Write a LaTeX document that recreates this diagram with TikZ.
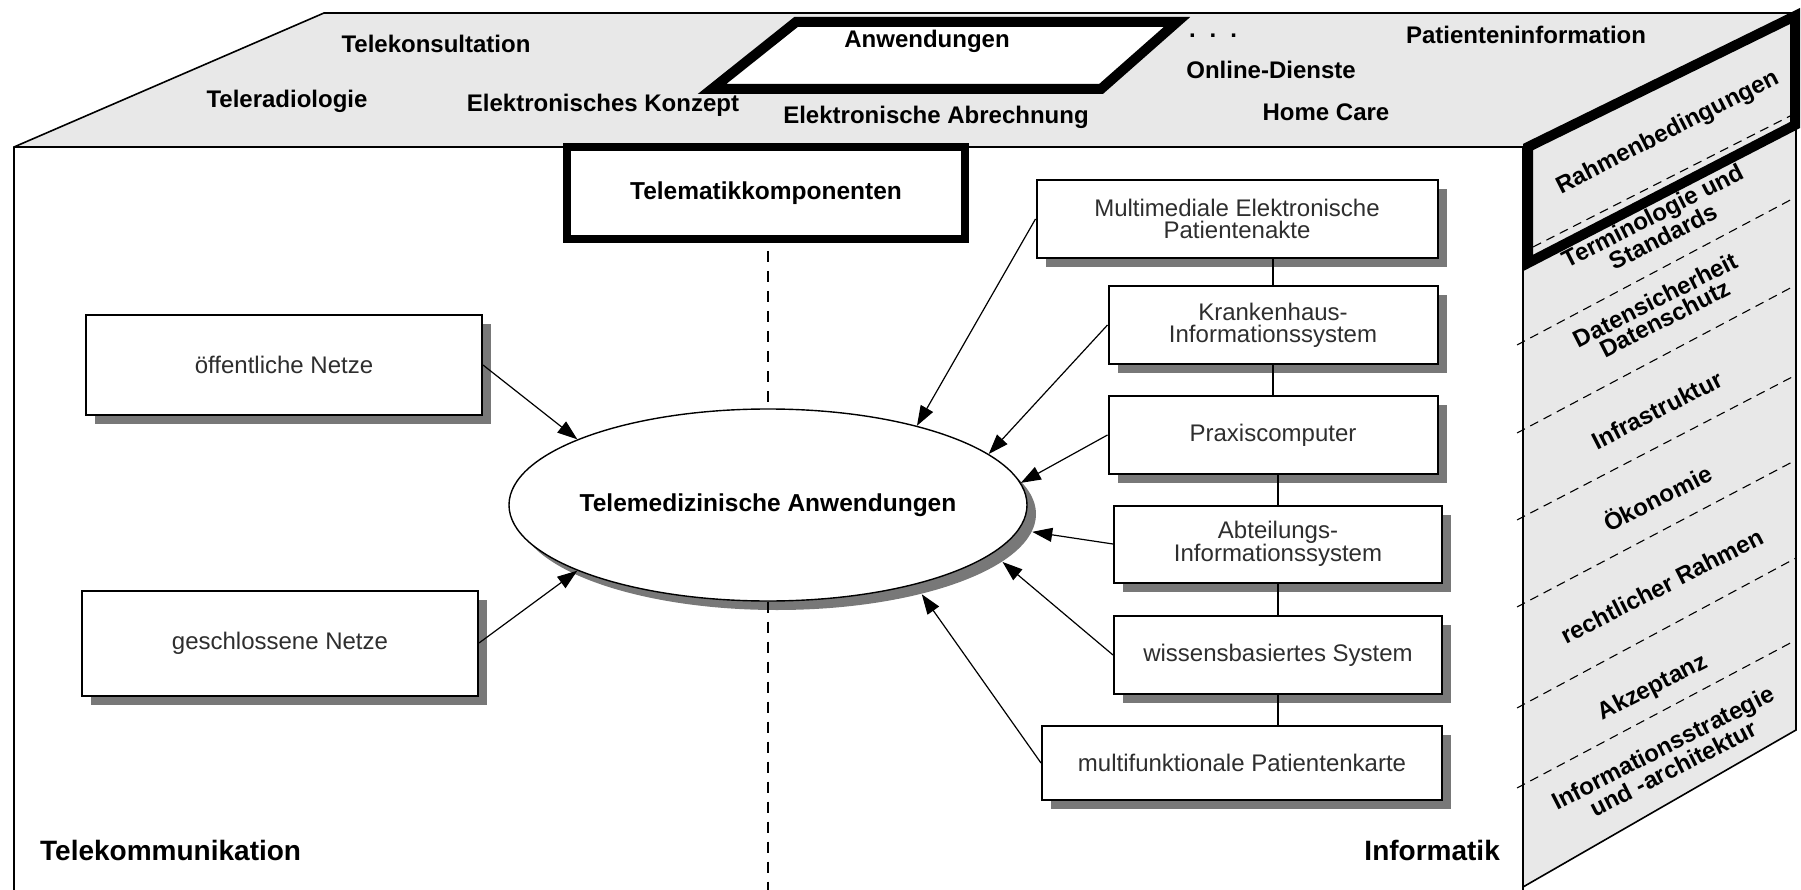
\documentclass[tikz,border=0pt]{standalone}
\usepackage{fontspec}
\setmainfont{Liberation Sans}
\usetikzlibrary{arrows.meta,shapes.geometric,shadows}
\definecolor{facegray}{gray}{0.91}
\definecolor{shadowgray}{gray}{0.47}
\definecolor{boxtext}{gray}{0.18}
\begin{document}
\begin{tikzpicture}[x=1pt,y=-1pt,
  outline/.style={line width=1.6pt,line join=miter},
  heavyframe/.style={line width=10pt,line join=miter},
  divider/.style={line width=1.1pt,dash pattern=on 9pt off 6pt},
  axisdash/.style={line width=1.5pt,dash pattern=on 11pt off 9pt},
  boxshadow/.style={drop shadow={shadow xshift=9pt,shadow yshift=-9pt,fill=shadowgray,opacity=1}},
  compbox/.style={draw,line width=2pt,fill=white,inner sep=0pt,align=center,
     text=boxtext,font=\fontsize{24}{22}\selectfont,boxshadow},
  feed/.style={line width=1.2pt,-{Triangle[length=20pt,width=14pt]}},
  linkline/.style={line width=1.6pt},
  toplabel/.style={inner sep=0pt,text height=17pt,text depth=0pt,
     font=\bfseries\fontsize{24}{24}\selectfont},
  cornerlabel/.style={inner sep=0pt,text height=20pt,text depth=0pt,
     font=\bfseries\fontsize{28}{28}\selectfont},
  sidelabel/.style={inner sep=0pt,rotate=27,align=center,
     font=\bfseries\fontsize{24}{21}\selectfont},
]
\useasboundingbox (0,0) rectangle (1801,890);

% top face and right side face of the cube
\fill[facegray] (14,147) -- (324,13) -- (1796,13) -- (1523,147) -- cycle;
\fill[facegray] (1523,147) -- (1796,13) -- (1796,730) -- (1523,887) -- cycle;

% cube edges
\draw[outline] (14,890) -- (14,147) -- (324,13) -- (1796,13) -- (1796,730) -- (1523,887);
\draw[outline] (14,147) -- (1523,147);
\draw[outline] (1523,147) -- (1523,890);

% layer boundaries on the side face
\draw[divider] (1533,247) -- (1796,113);
\foreach \yl/\yr in {345/197,433/285,520/375,607/460,708/558,788/640}
  \draw[divider] (1517,\yl) -- (1796,\yr);

% highlighted first layer of the side face
\draw[heavyframe] (1528,147) -- (1795,16) -- (1795,125) -- (1528,263) -- cycle;

% highlighted field on the top face
\draw[heavyframe,fill=white] (712,89) -- (796,22) -- (1177,22) -- (1101,89) -- cycle;

% applications on the top face
\node[toplabel] (anw)     at (927,39)   {Anwendungen};
\node[toplabel] (tkons)   at (436,44)   {Telekonsultation};
\node[toplabel] (trad)    at (287,99)   {Teleradiologie};
\node[toplabel] (ekonz)   at (603,103)  {Elektronisches Konzept};
\node[toplabel] (eabr)    at (936,115)  {Elektronische Abrechnung};
\node[inner sep=0pt,font=\bfseries\fontsize{24}{24}\selectfont] (more) at (1213,36)
   {.\hspace{14pt}.\hspace{14pt}.};
\node[toplabel] (pinfo)   at (1526,35)  {Patienteninformation};
\node[toplabel] (online)  at (1271,70)  {Online-Dienste};
\node[toplabel] (home)    at (1326,112) {Home Care};

% framework layers on the side face
\node[sidelabel] (rahmen) at (1668,133) {Rahmenbedingungen};
\node[sidelabel] (term)   at (1658,226) {Terminologie und\\Standards};
\node[sidelabel] (dsich)  at (1660,309) {Datensicherheit\\Datenschutz};
\node[sidelabel] (infra)  at (1657,410) {Infrastruktur};
\node[sidelabel] (oeko)   at (1657,497) {Ökonomie};
\node[sidelabel] (recht)  at (1662,586) {rechtlicher Rahmen};
\node[sidelabel] (akz)    at (1653,688) {Akzeptanz};
\node[sidelabel] (istrat) at (1668,758) {Informationsstrategie\\und -architektur};

% front face: components
\node[draw,line width=8pt,fill=white,inner sep=0pt,minimum width=398pt,minimum height=92pt,
      font=\bfseries\fontsize{24.5}{24}\selectfont] (telematik) at (766,193) {Telematikkomponenten};

\node[ellipse,draw,line width=1.4pt,fill=white,inner xsep=-14pt,inner ysep=0pt,
      minimum width=518pt,minimum height=192pt,boxshadow,
      font=\bfseries\fontsize{24.5}{24}\selectfont] (tele) at (768,505) {Telemedizinische Anwendungen};

\coordinate (floor) at (768,890);
\draw[axisdash,shorten <=8pt] (tele.north |- telematik.south) -- (tele.north);
\draw[axisdash] (tele.south) -- (tele.south |- floor);

\node[compbox,minimum width=396pt,minimum height=100pt] (oeff)   at (284,365) {öffentliche Netze};
\node[compbox,minimum width=396pt,minimum height=105pt] (geschl) at (280,643) {geschlossene Netze};

\node[compbox,minimum width=401pt,minimum height=78pt] (mep)   at (1237,219) {Multimediale Elektronische\\Patientenakte};
\node[compbox,minimum width=329pt,minimum height=78pt] (kh)    at (1273,325) {Krankenhaus-\\Informationssystem};
\node[compbox,minimum width=329pt,minimum height=78pt] (prax)  at (1273,435) {Praxiscomputer};
\node[compbox,minimum width=328pt,minimum height=77pt] (abt)   at (1278,544) {Abteilungs-\\Informationssystem};
\node[compbox,minimum width=328pt,minimum height=78pt] (wiss)  at (1278,655) {wissensbasiertes System};
\node[compbox,minimum width=400pt,minimum height=74pt] (multi) at (1242,763) {multifunktionale Patientenkarte};

% links between the information systems
\draw[linkline] (kh.north) -- (kh.north |- mep.south);
\draw[linkline] (prax.north) -- (kh.south);
\draw[linkline] (abt.north) -- (abt.north |- prax.south);
\draw[linkline] (wiss.north) -- (abt.south);
\draw[linkline] (wiss.south) -- (wiss.south |- multi.north);

% inputs to the applications (the lower ones end on the shadow rim)
\draw[feed] (oeff.east)   -- (tele.161);
\draw[feed] (geschl.east) -- (tele.199);
\draw[feed] (mep.west)    -- (tele.28);
\draw[feed] (kh.west)     -- (tele.13);
\draw[feed] (prax.west)   -- (tele.5);
\draw[feed] (abt.west)    -- ([shift={(9,9)}]tele.-4);
\draw[feed] (wiss.west)   -- ([shift={(9,9)}]tele.-12);
\draw[feed] (multi.west)  -- ([shift={(9,9)}]tele.-29);

% domain labels
\node[cornerlabel,anchor=west] (tkom) at (40,850)   {Telekommunikation};
\node[cornerlabel,anchor=east] (info) at (1500,850) {Informatik};
\end{tikzpicture}
\end{document}
